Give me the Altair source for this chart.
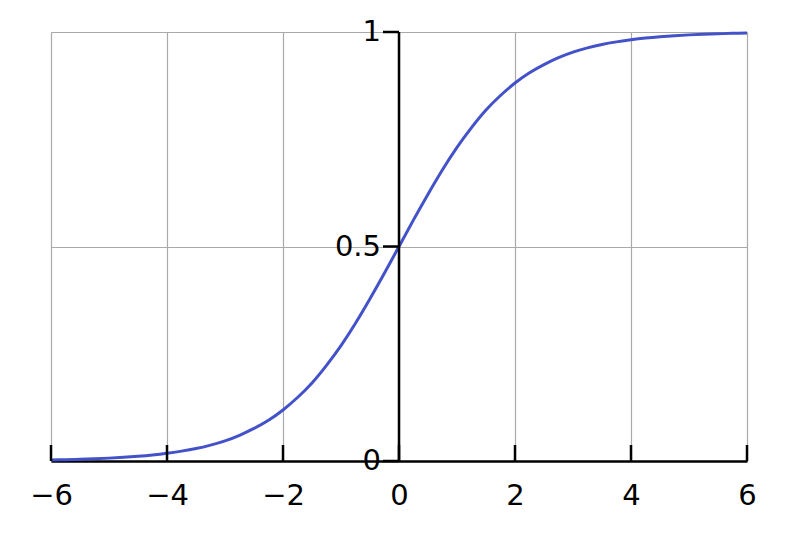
import altair as alt
import pandas as pd

# values
xs = [-6, -5.75, -5.5, -5.25, -5, -4.75, -4.5, -4.25, -4, -3.75, -3.5, -3.25, -3,
      -2.75, -2.5, -2.25, -2, -1.75, -1.5, -1.25, -1, -0.75, -0.5, -0.25, 0,
      0.25, 0.5, 0.75, 1, 1.25, 1.5, 1.75, 2, 2.25, 2.5, 2.75, 3,
      3.25, 3.5, 3.75, 4, 4.25, 4.5, 4.75, 5, 5.25, 5.5, 5.75, 6]
ys = [0.0025, 0.0032, 0.0041, 0.0052, 0.0067, 0.0086, 0.011, 0.014, 0.018, 0.023, 0.029, 0.037, 0.047,
      0.06, 0.076, 0.095, 0.119, 0.148, 0.182, 0.223, 0.269, 0.321, 0.378, 0.438, 0.5,
      0.562, 0.622, 0.679, 0.731, 0.777, 0.818, 0.852, 0.881, 0.905, 0.924, 0.94, 0.953,
      0.963, 0.971, 0.977, 0.982, 0.986, 0.989, 0.9914, 0.9933, 0.9948, 0.9959, 0.9968, 0.9975]
x_ticks = [-6, -4, -2, 0, 2, 4, 6]
y_ticks = [0, 0.5, 1]
y_labels = ["0", "0.5", "1"]

curve = pd.DataFrame({"x": xs, "y": ys})
xt = pd.DataFrame({"x": x_ticks, "y": [0] * len(x_ticks)})
yt = pd.DataFrame({"x": [0] * len(y_ticks), "y": y_ticks, "label": y_labels})

W, H = 696, 429
xscale = alt.Scale(domain=[-6, 6], nice=False, zero=False)
yscale = alt.Scale(domain=[0, 1], nice=False)

FONT = "DejaVu Sans"
FS = 29

line = alt.Chart(curve).mark_line(color="#4352C9", strokeWidth=3, interpolate="natural").encode(
    x=alt.X("x:Q", scale=xscale,
            axis=alt.Axis(values=x_ticks, title=None, ticks=False, domain=True,
                          domainColor="black", domainWidth=2.5,
                          grid=True, gridColor="#aaaaaa", gridWidth=1.2,
                          labelFont=FONT, labelFontSize=FS, labelColor="black",
                          labelPadding=20, labelFlush=False, labelOverlap=False,
                          labelExpr="datum.value < 0 ? '\u2212' + abs(datum.value) : '' + datum.value")),
    y=alt.Y("y:Q", scale=yscale,
            axis=alt.Axis(values=y_ticks, title=None, ticks=False, domain=False, labels=False,
                          grid=True, gridColor="#aaaaaa", gridWidth=1.2)),
)

xtick_marks = alt.Chart(xt).mark_rule(color="black", strokeWidth=2.5).encode(
    x=alt.X("x:Q", scale=xscale), y=alt.Y("y:Q", scale=yscale), y2=alt.value(H - 16)
)

yaxis_line = alt.Chart(pd.DataFrame({"x": [0], "y": [0], "y2": [1]})).mark_rule(
    color="black", strokeWidth=2.5).encode(
    x=alt.X("x:Q", scale=xscale), y=alt.Y("y:Q", scale=yscale), y2="y2:Q"
)

ytick_marks = alt.Chart(yt).mark_rule(color="black", strokeWidth=2.5).encode(
    x=alt.X("x:Q", scale=xscale), x2=alt.value(W / 2 - 16), y=alt.Y("y:Q", scale=yscale)
)

ylabels = alt.Chart(yt).mark_text(
    font=FONT, fontSize=FS, align="right", baseline="middle", dx=-18, color="black"
).encode(
    x=alt.X("x:Q", scale=xscale), y=alt.Y("y:Q", scale=yscale), text="label:N"
)

chart = alt.layer(line, xtick_marks, yaxis_line, ytick_marks, ylabels).properties(
    width=W, height=H,
    padding={"left": 43, "top": 24, "right": 20, "bottom": 60},
    autosize=alt.AutoSizeParams(type="none"),
).configure_view(stroke=None).configure(background="white")

chart.save("out.html", embed_options={"renderer": "svg", "actions": False})
